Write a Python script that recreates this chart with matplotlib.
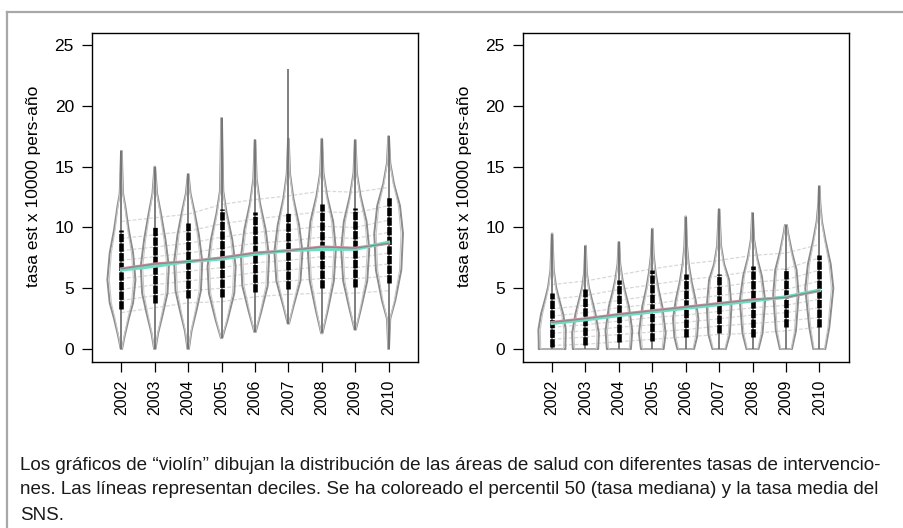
import matplotlib
matplotlib.use("Agg")
import matplotlib.pyplot as plt
import numpy as np
from matplotlib.lines import Line2D

plt.rcParams["font.family"] = ["Liberation Sans", "DejaVu Sans"]

# data
years = ["2002", "2003", "2004", "2005", "2006", "2007", "2008", "2009", "2010"]
ylabel = "tasa est x 10000 pers-año"

# left panel
left_min = [0.0, 0.0, 0.0, 0.9, 1.4, 2.1, 1.3, 1.6, 0.0]
left_max = [16.3, 15.0, 14.4, 19.0, 17.2, 23.0, 17.3, 17.2, 17.5]
left_dense_lo = [3.3, 3.8, 4.2, 4.3, 4.7, 4.9, 5.0, 5.1, 5.4]
left_dense_hi = [9.8, 10.1, 10.4, 11.5, 11.3, 11.2, 11.9, 11.6, 12.5]
left_median = [6.6, 7.0, 7.2, 7.5, 7.9, 8.1, 8.4, 8.3, 8.7]
left_mean = [6.5, 6.8, 7.2, 7.4, 7.8, 8.1, 8.2, 8.2, 8.8]
left_deciles = [
    [3.0, 4.0, 4.9, 5.8, 6.6, 7.3, 8.1, 9.1, 10.5],
    [3.4, 4.4, 5.3, 6.1, 7.0, 7.6, 8.4, 9.4, 10.8],
    [3.8, 4.8, 5.6, 6.4, 7.2, 7.9, 8.7, 9.7, 11.1],
    [3.9, 5.0, 5.9, 6.7, 7.5, 8.3, 9.2, 10.3, 11.9],
    [4.3, 5.4, 6.3, 7.1, 7.9, 8.7, 9.6, 10.7, 12.3],
    [4.5, 5.6, 6.5, 7.3, 8.1, 8.9, 9.8, 11.0, 12.6],
    [4.6, 5.8, 6.8, 7.6, 8.4, 9.2, 10.1, 11.3, 13.0],
    [4.6, 5.8, 6.7, 7.5, 8.3, 9.1, 10.0, 11.2, 12.9],
    [4.8, 6.0, 7.0, 7.9, 8.7, 9.6, 10.6, 11.8, 13.3],
]
# violin outline knots: (rate, half width)
left_violins = [
    [(0.0, 0.02), (1.1, 0.10), (2.5, 0.22), (3.8, 0.35), (5.7, 0.42), (7.9, 0.35), (9.8, 0.22), (11.7, 0.12), (12.8, 0.05), (16.3, 0.01)],
    [(0.0, 0.02), (1.3, 0.10), (3.0, 0.25), (4.6, 0.38), (6.8, 0.42), (9.0, 0.32), (11.2, 0.18), (12.8, 0.07), (15.0, 0.01)],
    [(0.0, 0.02), (1.5, 0.10), (3.2, 0.25), (4.8, 0.38), (7.2, 0.42), (9.4, 0.32), (11.4, 0.18), (12.8, 0.07), (14.4, 0.01)],
    [(0.9, 0.02), (2.4, 0.18), (4.6, 0.38), (6.8, 0.42), (9.0, 0.32), (11.2, 0.15), (13.0, 0.05), (16.0, 0.03), (19.0, 0.01)],
    [(1.4, 0.02), (3.0, 0.18), (5.2, 0.38), (7.6, 0.42), (9.8, 0.32), (12.0, 0.15), (14.0, 0.05), (17.2, 0.01)],
    [(2.1, 0.02), (3.6, 0.16), (5.6, 0.36), (8.0, 0.42), (10.2, 0.32), (12.4, 0.15), (14.4, 0.05), (17.3, 0.01)],
    [(1.3, 0.02), (3.2, 0.18), (5.6, 0.36), (8.2, 0.42), (10.5, 0.34), (12.6, 0.16), (14.5, 0.05), (17.3, 0.01)],
    [(1.6, 0.02), (3.4, 0.18), (5.6, 0.36), (8.2, 0.42), (10.5, 0.34), (12.6, 0.16), (14.5, 0.05), (17.2, 0.01)],
    [(0.0, 0.01), (2.5, 0.05), (4.0, 0.20), (6.5, 0.38), (9.5, 0.43), (11.8, 0.34), (13.6, 0.16), (15.3, 0.05), (17.5, 0.01)],
]

# right panel
right_min = [0.0, 0.0, 0.0, 0.0, 0.0, 0.0, 0.0, 0.0, 0.0]
right_max = [9.5, 8.5, 8.8, 9.9, 10.9, 11.5, 11.2, 10.2, 13.4]
right_dense_lo = [0.2, 0.3, 0.6, 0.7, 1.0, 1.3, 1.0, 1.8, 1.8]
right_dense_hi = [4.6, 4.9, 5.7, 6.5, 6.2, 6.2, 6.8, 6.6, 7.7]
right_median = [2.2, 2.5, 2.85, 3.15, 3.45, 3.75, 4.05, 4.25, 4.8]
right_mean = [2.1, 2.4, 2.75, 3.05, 3.35, 3.65, 3.95, 4.3, 4.85]
right_deciles = [
    [0.3, 0.8, 1.3, 1.8, 2.2, 2.7, 3.3, 4.1, 5.3],
    [0.4, 1.0, 1.5, 2.0, 2.5, 3.0, 3.6, 4.4, 5.6],
    [0.6, 1.2, 1.8, 2.3, 2.85, 3.4, 4.0, 4.9, 6.1],
    [0.8, 1.4, 2.0, 2.6, 3.15, 3.7, 4.4, 5.3, 6.6],
    [1.0, 1.6, 2.2, 2.8, 3.45, 4.1, 4.8, 5.7, 7.0],
    [1.2, 1.9, 2.5, 3.1, 3.75, 4.4, 5.1, 6.0, 7.3],
    [1.3, 2.1, 2.8, 3.4, 4.05, 4.7, 5.5, 6.4, 7.7],
    [1.5, 2.3, 3.0, 3.6, 4.25, 4.9, 5.7, 6.6, 7.9],
    [1.8, 2.6, 3.4, 4.1, 4.8, 5.6, 6.5, 7.5, 8.6],
]
right_violins = [
    [(0.0, 0.40), (0.5, 0.40), (1.6, 0.41), (2.9, 0.33), (4.2, 0.20), (5.1, 0.12), (6.5, 0.05), (9.5, 0.01)],
    [(0.0, 0.38), (1.3, 0.40), (2.9, 0.30), (4.2, 0.18), (5.1, 0.10), (6.3, 0.04), (8.5, 0.01)],
    [(0.0, 0.36), (1.5, 0.40), (3.5, 0.30), (4.8, 0.18), (5.7, 0.11), (7.0, 0.04), (8.8, 0.01)],
    [(0.0, 0.34), (1.3, 0.40), (3.5, 0.30), (5.0, 0.18), (6.3, 0.10), (7.8, 0.04), (9.9, 0.01)],
    [(0.0, 0.25), (1.0, 0.34), (2.5, 0.38), (4.0, 0.30), (5.5, 0.18), (7.0, 0.09), (8.5, 0.04), (10.9, 0.01)],
    [(0.0, 0.20), (1.2, 0.32), (3.5, 0.37), (5.7, 0.30), (7.0, 0.15), (8.5, 0.06), (11.5, 0.01)],
    [(0.0, 0.18), (1.3, 0.30), (4.0, 0.38), (6.0, 0.28), (7.5, 0.14), (9.0, 0.05), (11.2, 0.01)],
    [(0.0, 0.18), (1.5, 0.30), (4.5, 0.38), (6.5, 0.32), (8.0, 0.18), (9.5, 0.07), (10.2, 0.03)],
    [(0.0, 0.18), (1.8, 0.30), (5.0, 0.42), (7.0, 0.34), (9.0, 0.18), (10.5, 0.08), (12.0, 0.03), (13.4, 0.01)],
]

caption = [
    "Los gráficos de “violín” dibujan la distribución de las áreas de salud con diferentes tasas de intervencio-",
    "nes. Las líneas representan deciles. Se ha coloreado el percentil 50 (tasa mediana) y la tasa media del",
    "SNS.",
]


def draw_panel(ax, violins, vmin, vmax, dense_lo, dense_hi, deciles, median, mean):
    pos = np.arange(1, len(years) + 1)

    # decile lines across years
    dec = np.array(deciles)
    for k in range(dec.shape[1]):
        ax.plot(pos, dec[:, k], color="#d8d8d8", lw=0.9, ls=(0, (3, 1.5)), zorder=1)

    # violin outlines
    for p, knots in zip(pos, violins):
        kv = np.array([k[0] for k in knots])
        kw = np.array([k[1] for k in knots])
        vs = np.linspace(kv[0], kv[-1], 200)
        hw = np.interp(vs, kv, kw)
        ax.fill_betweenx(vs, p - hw, p + hw, facecolor="none", edgecolor="#8c8c8c", lw=1.4, zorder=2)
        ax.fill_betweenx(vs, p - 0.86 * hw, p + 0.86 * hw, facecolor="none", edgecolor="#c8c8c8", lw=0.8, zorder=2)

    # observations
    ax.vlines(pos, vmin, vmax, color="#6a6a6a", lw=1.2, zorder=3)
    ax.vlines(pos, dense_lo, dense_hi, color="black", lw=3.3, ls=(0, (1.8, 0.3)), zorder=4)

    # median and mean of SNS
    ax.plot(pos, median, color="#d98c9f", lw=2.2, zorder=5)
    ax.plot(pos, mean, color="#6fdcc2", lw=2.2, zorder=5)
    ax.plot(pos, median, color="#8a8a8a", lw=1.0, zorder=6)

    ax.set_xlim(0.12, 9.88)
    ax.set_ylim(-1.04, 26.0)
    ax.set_yticks([0, 5, 10, 15, 20, 25])
    ax.set_xticks(pos)
    ax.set_xticklabels(years, rotation=90)
    ax.tick_params(direction="out", length=7, width=0.9, pad=6)
    ax.tick_params(axis="x", labelsize=11.5)
    ax.tick_params(axis="y", labelsize=12.5, pad=6)
    for s in ax.spines.values():
        s.set_linewidth(1.0)
    ax.set_ylabel(ylabel, fontsize=12.5)
    ax.yaxis.set_label_coords(-0.155, 0.535)


fig = plt.figure(figsize=(9.04, 5.28), dpi=100)
fig.set_facecolor("white")

ax1 = fig.add_axes([92 / 904, 1 - 361.7 / 528, 326 / 904, 328.7 / 528])
ax2 = fig.add_axes([522.7 / 904, 1 - 361.7 / 528, 326 / 904, 328.7 / 528])

draw_panel(ax1, left_violins, left_min, left_max, left_dense_lo, left_dense_hi, left_deciles, left_median, left_mean)
draw_panel(ax2, right_violins, right_min, right_max, right_dense_lo, right_dense_hi, right_deciles, right_median, right_mean)

# caption
for i, line in enumerate(caption):
    fig.text(20 / 904, 1 - (465 + 25 * i) / 528, line, fontsize=13.6, va="center", ha="left", color="#1a1a1a")

# grey frame (top and left sides visible)
fig.add_artist(Line2D([7 / 904, 1.0], [1 - 12 / 528, 1 - 12 / 528], color="#a8a8a8", lw=1.6))
fig.add_artist(Line2D([7 / 904, 7 / 904], [0.0, 1 - 12 / 528], color="#a8a8a8", lw=1.6))

fig.savefig("out.png", dpi=100)
plt.close(fig)
